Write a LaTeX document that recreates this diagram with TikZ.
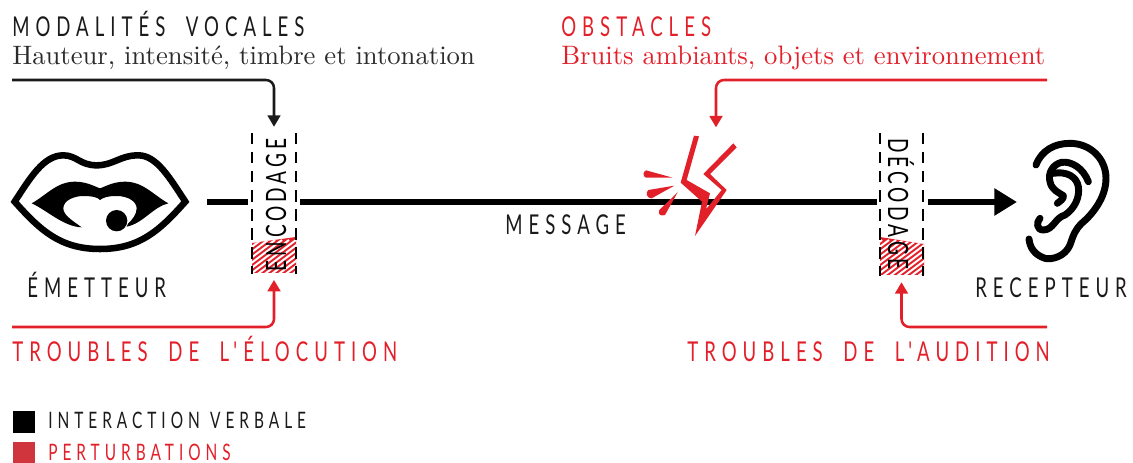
\documentclass[tikz,border=0pt]{standalone}
\usepackage{fontspec}
\newfontfamily\cond[FakeStretch=0.68,LetterSpace=22]{Lato}
\newfontfamily\condv[FakeStretch=0.68,LetterSpace=14]{Lato}
\newfontface\serten{lmroman10-regular.otf}
\usetikzlibrary{arrows.meta}
\definecolor{ink}{HTML}{1A1A1A}
\definecolor{sering}{HTML}{2B2B2B}
\definecolor{redc}{HTML}{E2202A}
\definecolor{redl}{HTML}{D0343C}
\newcommand{\wsp}{\hspace{0.75em}}
\tikzset{
 x=0.75pt,y=-0.75pt,
 lab/.style={font=\fontsize{20.5}{20}\selectfont\cond,inner sep=0pt,anchor=base west},
 leg/.style={font=\fontsize{17}{18}\selectfont\cond,inner sep=0pt,anchor=base west},
 vert/.style={font=\fontsize{21}{22}\selectfont\condv,inner sep=0pt,anchor=center,text=black},
 ser/.style={font=\fontsize{20}{20}\selectfont\serten,inner sep=0pt,anchor=base west},
 conn/.style={line width=1.9pt,rounded corners=6pt,-{Triangle[length=8.5pt,width=9.5pt]}},
 dashb/.style={line width=2.2pt,dash pattern=on 8.5pt off 5.8pt},
 main/.style={line width=4.4pt},
 boxn/.style={minimum width=33pt,minimum height=105pt,inner sep=0pt,draw=none},
 hatchw/.style={draw=white,line width=1.5pt},
 zoomed/.style={x=0.25pt,y=-0.25pt},
 icon/.style={line width=5.2pt,line cap=round,line join=round},
}
\begin{document}
\begin{tikzpicture}
\useasboundingbox (0,0) rectangle (1133,463);
% boxes
\node[boxn] (enc) at (274,203) {};
\node[boxn] (dec) at (901.5,204) {};
% hatched zones
\begin{scope}
\clip (252,243) -- (296,237) -- (296,273) -- (252,273) -- cycle;
\fill[redc] (250,230) rectangle (298,275);
\foreach \k in {-60,-53,...,100} {\draw[hatchw] (240+\k,285) -- (240+\k+60,240);}
\end{scope}
\begin{scope}
\clip (880,237) -- (924,244) -- (924,275) -- (880,275) -- cycle;
\fill[redc] (878,230) rectangle (926,277);
\foreach \k in {-60,-53,...,100} {\draw[hatchw] (868+\k,285) -- (868+\k+60,240);}
\end{scope}
% dashed sides
\draw[dashb] (252,133) -- (252,274);
\draw[dashb] (296,133) -- (296,274);
\draw[dashb] (880,133) -- (880,276);
\draw[dashb] (923,133) -- (923,276);
\node[vert,rotate=90] (enct) at (276,205) {ENCODAGE};
\node[vert,rotate=-90] (dect) at (901,204) {DÉCODAGE};
% coordinates
\coordinate (mouthr) at (207,202);
\coordinate (earl) at (1017,202);
\coordinate (a1) at (12,80);
\coordinate (a2) at (1047,80);
\coordinate (a3) at (12,327);
\coordinate (a4) at (1047,327);
\coordinate (hit) at (716,134);
% main line
\draw[main] (mouthr) -- ([xshift=-3pt]enc.west|-mouthr);
\draw[main] ([xshift=3pt]enc.east|-mouthr) -- ([xshift=-2pt]dec.west|-mouthr);
\draw[main,-{Triangle[length=17pt,width=19.5pt]}] ([xshift=3pt]dec.east|-mouthr) -- (earl);
% connectors
\draw[conn,draw=ink,-{Triangle[length=8.5pt,width=9.5pt,color=ink]}] (a1) -| ([yshift=4.5pt]enc.north);
\draw[conn,draw=redc,-{Triangle[length=8.5pt,width=9.5pt,color=redc]}] (a2) -| ([yshift=5pt]hit);
\draw[conn,draw=redc,-{Triangle[length=8.5pt,width=9.5pt,color=redc]}] (a3) -| ([yshift=-5pt]enc.south);
\draw[conn,draw=redc,-{Triangle[length=8.5pt,width=9.5pt,color=redc]}] (a4) -| ([yshift=-6pt]dec.south);
% lightning
\begin{scope}[shift={(630,70)},zoomed]
\fill[redc] (192,197) -- (207,199) -- (170,330) -- (240,370) -- (228,418) -- (275,360) -- (220,312) -- (310,220) -- (320,232) -- (240,312) -- (290,360) -- (195,498) -- (216,395) -- (152,338) -- cycle;
\fill[redc] (128,323) -- (48,301) .. controls (38,305) and (38,320) .. (48,323) -- cycle;
\fill[redc] (133,347) -- (55,360) .. controls (45,368) and (50,385) .. (65,385) -- cycle;
\fill[redc] (143,367) -- (88,420) .. controls (82,432) and (92,440) .. (105,435) -- cycle;
\end{scope}
% mouth
\begin{scope}[shift={(0,120)},zoomed]
\draw[line width=4.9pt,miter limit=10] (44,245) .. controls (90,175) and (130,106) .. (190,106) .. controls (230,106) and (240,136) .. (290,136) .. controls (340,136) and (360,106) .. (415,106) .. controls (470,106) and (510,175) .. (556,245) .. controls (480,330) and (420,387) .. (300,387) .. controls (180,387) and (120,330) .. (44,245) -- cycle;
\fill (95,250) .. controls (140,225) and (170,185) .. (225,185) .. controls (260,185) and (285,200) .. (300,205) .. controls (315,200) and (340,185) .. (375,185) .. controls (430,185) and (460,225) .. (505,250) .. controls (460,260) and (430,310) .. (380,320) -- (385,310) .. controls (395,300) and (410,285) .. (410,265) .. controls (410,245) and (385,228) .. (350,228) .. controls (325,228) and (310,232) .. (300,240) .. controls (295,232) and (275,228) .. (250,228) .. controls (225,228) and (190,240) .. (190,265) .. controls (190,285) and (215,300) .. (245,322) .. controls (190,320) and (140,270) .. (95,250) -- cycle;
\fill (350,302) circle[radius=32];
\end{scope}
% ear
\begin{scope}[shift={(1020,135)},zoomed]
\draw[icon] (48,90) .. controls (65,45) and (105,25) .. (150,25) .. controls (210,25) and (258,70) .. (258,130) .. controls (258,190) and (215,240) .. (185,265) .. controls (165,285) and (160,300) .. (150,330) .. controls (135,365) and (95,375) .. (75,370) .. controls (45,360) and (30,340) .. (27,312);
\draw[icon] (205,140) .. controls (190,100) and (155,78) .. (125,82) .. controls (98,88) and (83,115) .. (90,140) .. controls (95,165) and (115,172) .. (130,182) .. controls (132,192) and (120,198) .. (112,205);
\draw[icon] (60,250) .. controls (48,262) and (50,285) .. (70,285) .. controls (100,285) and (105,248) .. (135,240) .. controls (165,220) and (180,185) .. (175,155) .. controls (170,125) and (140,108) .. (100,115);
\end{scope}
% text
\node[lab,text=ink] (t1) at (12,37) {MODALITÉS\wsp VOCALES};
\node[ser,text=sering] (s1) at (12,65) {Hauteur, intensité, timbre et intonation};
\node[lab,text=redc] (t2) at (561,37) {OBSTACLES};
\node[ser,text=redc] (s2) at (561,65) {Bruits ambiants, objets et environnement};
\node[lab,text=ink] (em) at (27,298) {ÉMETTEUR};
\node[lab,text=ink] (re) at (975,298) {RECEPTEUR};
\node[lab,text=ink] (msg) at (505,235) {MESSAGE};
\node[lab,text=redc] (t3) at (12,362) {TROUBLES\wsp DE\wsp L'ÉLOCUTION};
\node[lab,text=redc] (t4) at (687,362) {TROUBLES\wsp DE\wsp L'AUDITION};
% legend
\fill (13,411) rectangle (35,433);
\fill[redl] (13,442) rectangle (35,463);
\node[leg,text=ink] (l1) at (48,429) {INTERACTION\hspace{0.45em}VERBALE};
\node[leg,text=redc] (l2) at (48,460) {PERTURBATIONS};
\end{tikzpicture}
\end{document}
